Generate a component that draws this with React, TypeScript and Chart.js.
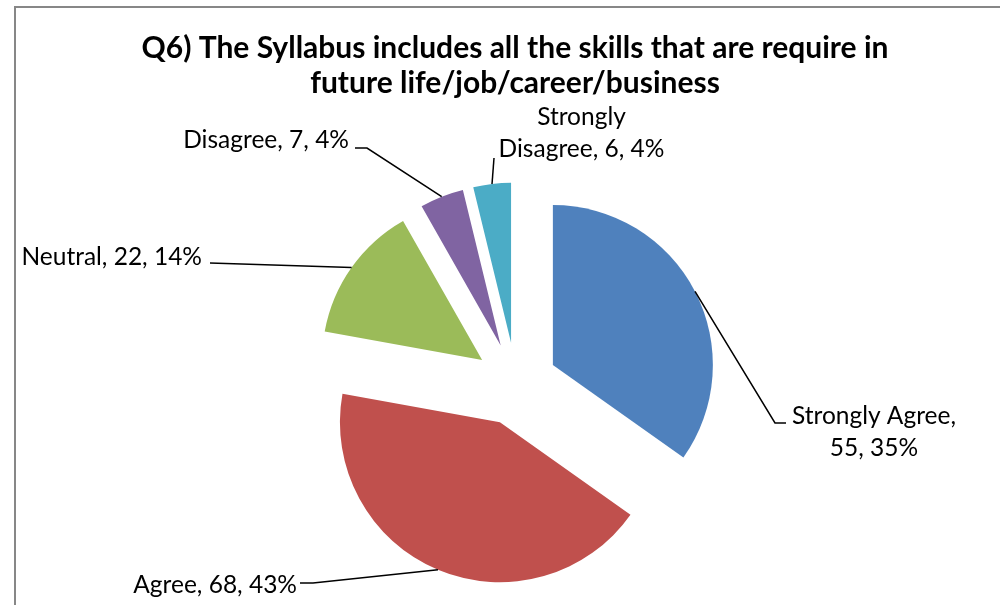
import React, { useEffect, useRef } from 'react';
import { Chart, registerables } from 'chart.js';

Chart.register(...registerables);

// ---------- data ----------
const categories = ['Strongly Agree', 'Agree', 'Neutral', 'Disagree', 'Strongly Disagree'];
const counts = [55, 68, 22, 7, 6];
const sliceColors = ['#4F81BD', '#C0504D', '#9BBB59', '#8064A2', '#4BACC6'];
const titleLines = [
  'Q6) The Syllabus includes all the skills that are require in',
  'future life/job/career/business',
];

// ---------- styling / layout ----------
const EXPLODE = 41.5; // px each slice is pulled out of the pie
const PIE_RADIUS = 160;
const FONT_FAMILY = 'Lato, "Open Sans", sans-serif';
const TITLE_FONT = `bold 30px ${FONT_FAMILY}`;
const LABEL_FONT = `24.5px ${FONT_FAMILY}`;
const TITLE_X = 515;
const TITLE_BASELINES = [58, 93];

type LabelStyle = {
  wrapAfterWords: number;
  align: CanvasTextAlign;
  x: number;
  baselines: number[];
  leader: [number, number][];
};

const labelStyles: LabelStyle[] = [
  { wrapAfterWords: 2, align: 'center', x: 874, baselines: [424, 456], leader: [[786, 423], [775, 423]] },
  { wrapAfterWords: 0, align: 'right', x: 297, baselines: [593], leader: [[300, 583], [313, 583]] },
  { wrapAfterWords: 0, align: 'right', x: 202, baselines: [265], leader: [[210, 263]] },
  { wrapAfterWords: 0, align: 'right', x: 349, baselines: [148], leader: [[355, 148], [367, 148]] },
  { wrapAfterWords: 1, align: 'center', x: 581.5, baselines: [125, 157], leader: [[494, 158]] },
];

const explodePlugin = {
  id: 'explodeSlices',
  beforeDatasetDraw(chart: any, args: any) {
    const ctx = chart.ctx as CanvasRenderingContext2D;
    args.meta.data.forEach((arc: any) => {
      const { startAngle, endAngle } = arc.getProps(['startAngle', 'endAngle'], true);
      const mid = (startAngle + endAngle) / 2;
      ctx.save();
      ctx.translate(Math.cos(mid) * EXPLODE, Math.sin(mid) * EXPLODE);
      arc.draw(ctx, chart.chartArea);
      ctx.restore();
    });
    return false;
  },
};

const decorPlugin = {
  id: 'decor',
  beforeDraw(chart: any) {
    const ctx = chart.ctx as CanvasRenderingContext2D;
    ctx.save();
    ctx.fillStyle = '#ffffff';
    ctx.fillRect(0, 0, chart.width, chart.height);
    ctx.strokeStyle = '#878787';
    ctx.lineWidth = 2;
    ctx.strokeRect(15, 7, 2000, 2000);
    ctx.restore();
  },
  afterDraw(chart: any) {
    const ctx = chart.ctx as CanvasRenderingContext2D;
    const total = counts.reduce((a, b) => a + b, 0);
    ctx.save();
    // title
    ctx.fillStyle = '#000000';
    ctx.font = TITLE_FONT;
    ctx.textAlign = 'center';
    ctx.textBaseline = 'alphabetic';
    titleLines.forEach((t, i) => ctx.fillText(t, TITLE_X, TITLE_BASELINES[i]));

    // labels + leader lines
    const meta = chart.getDatasetMeta(0);
    meta.data.forEach((arc: any, i: number) => {
      const { x, y, startAngle, endAngle, outerRadius } = arc.getProps(
        ['x', 'y', 'startAngle', 'endAngle', 'outerRadius'],
        true
      );
      const mid = (startAngle + endAngle) / 2;
      const ex = x + Math.cos(mid) * (EXPLODE + outerRadius);
      const ey = y + Math.sin(mid) * (EXPLODE + outerRadius);
      const st = labelStyles[i];

      ctx.strokeStyle = '#000000';
      ctx.lineWidth = 1.5;
      ctx.beginPath();
      st.leader.forEach(([px, py], k) => (k === 0 ? ctx.moveTo(px, py) : ctx.lineTo(px, py)));
      ctx.lineTo(ex, ey);
      ctx.stroke();

      const pct = Math.round((counts[i] / total) * 100);
      const full = `${categories[i]}, ${counts[i]}, ${pct}%`;
      const words = full.split(' ');
      const lines =
        st.wrapAfterWords > 0
          ? [words.slice(0, st.wrapAfterWords).join(' '), words.slice(st.wrapAfterWords).join(' ')]
          : [full];
      ctx.font = LABEL_FONT;
      ctx.textAlign = st.align;
      ctx.fillStyle = '#000000';
      lines.forEach((ln, k) => ctx.fillText(ln, st.x, st.baselines[k]));
    });
    ctx.restore();
  },
};

export default function App() {
  const canvasRef = useRef<HTMLCanvasElement | null>(null);

  useEffect(() => {
    const canvas = canvasRef.current;
    if (!canvas) return;
    const chart = new Chart(canvas, {
      type: 'pie',
      data: {
        labels: categories,
        datasets: [
          {
            data: counts,
            backgroundColor: sliceColors,
            borderWidth: 0,
            hoverOffset: 0,
          },
        ],
      },
      options: {
        responsive: false,
        animation: false,
        events: [],
        radius: PIE_RADIUS,
        layout: { padding: { left: 32, right: 0, top: 163, bottom: 0 } },
        plugins: {
          legend: { display: false },
          title: { display: false },
          tooltip: { enabled: false },
        },
      } as any,
      plugins: [explodePlugin, decorPlugin],
    });
    return () => chart.destroy();
  }, []);

  return (
    <div style={{ position: 'fixed', left: 0, top: 0, width: 1000, height: 605 }}>
      <canvas ref={canvasRef} width={1000} height={605} />
    </div>
  );
}
